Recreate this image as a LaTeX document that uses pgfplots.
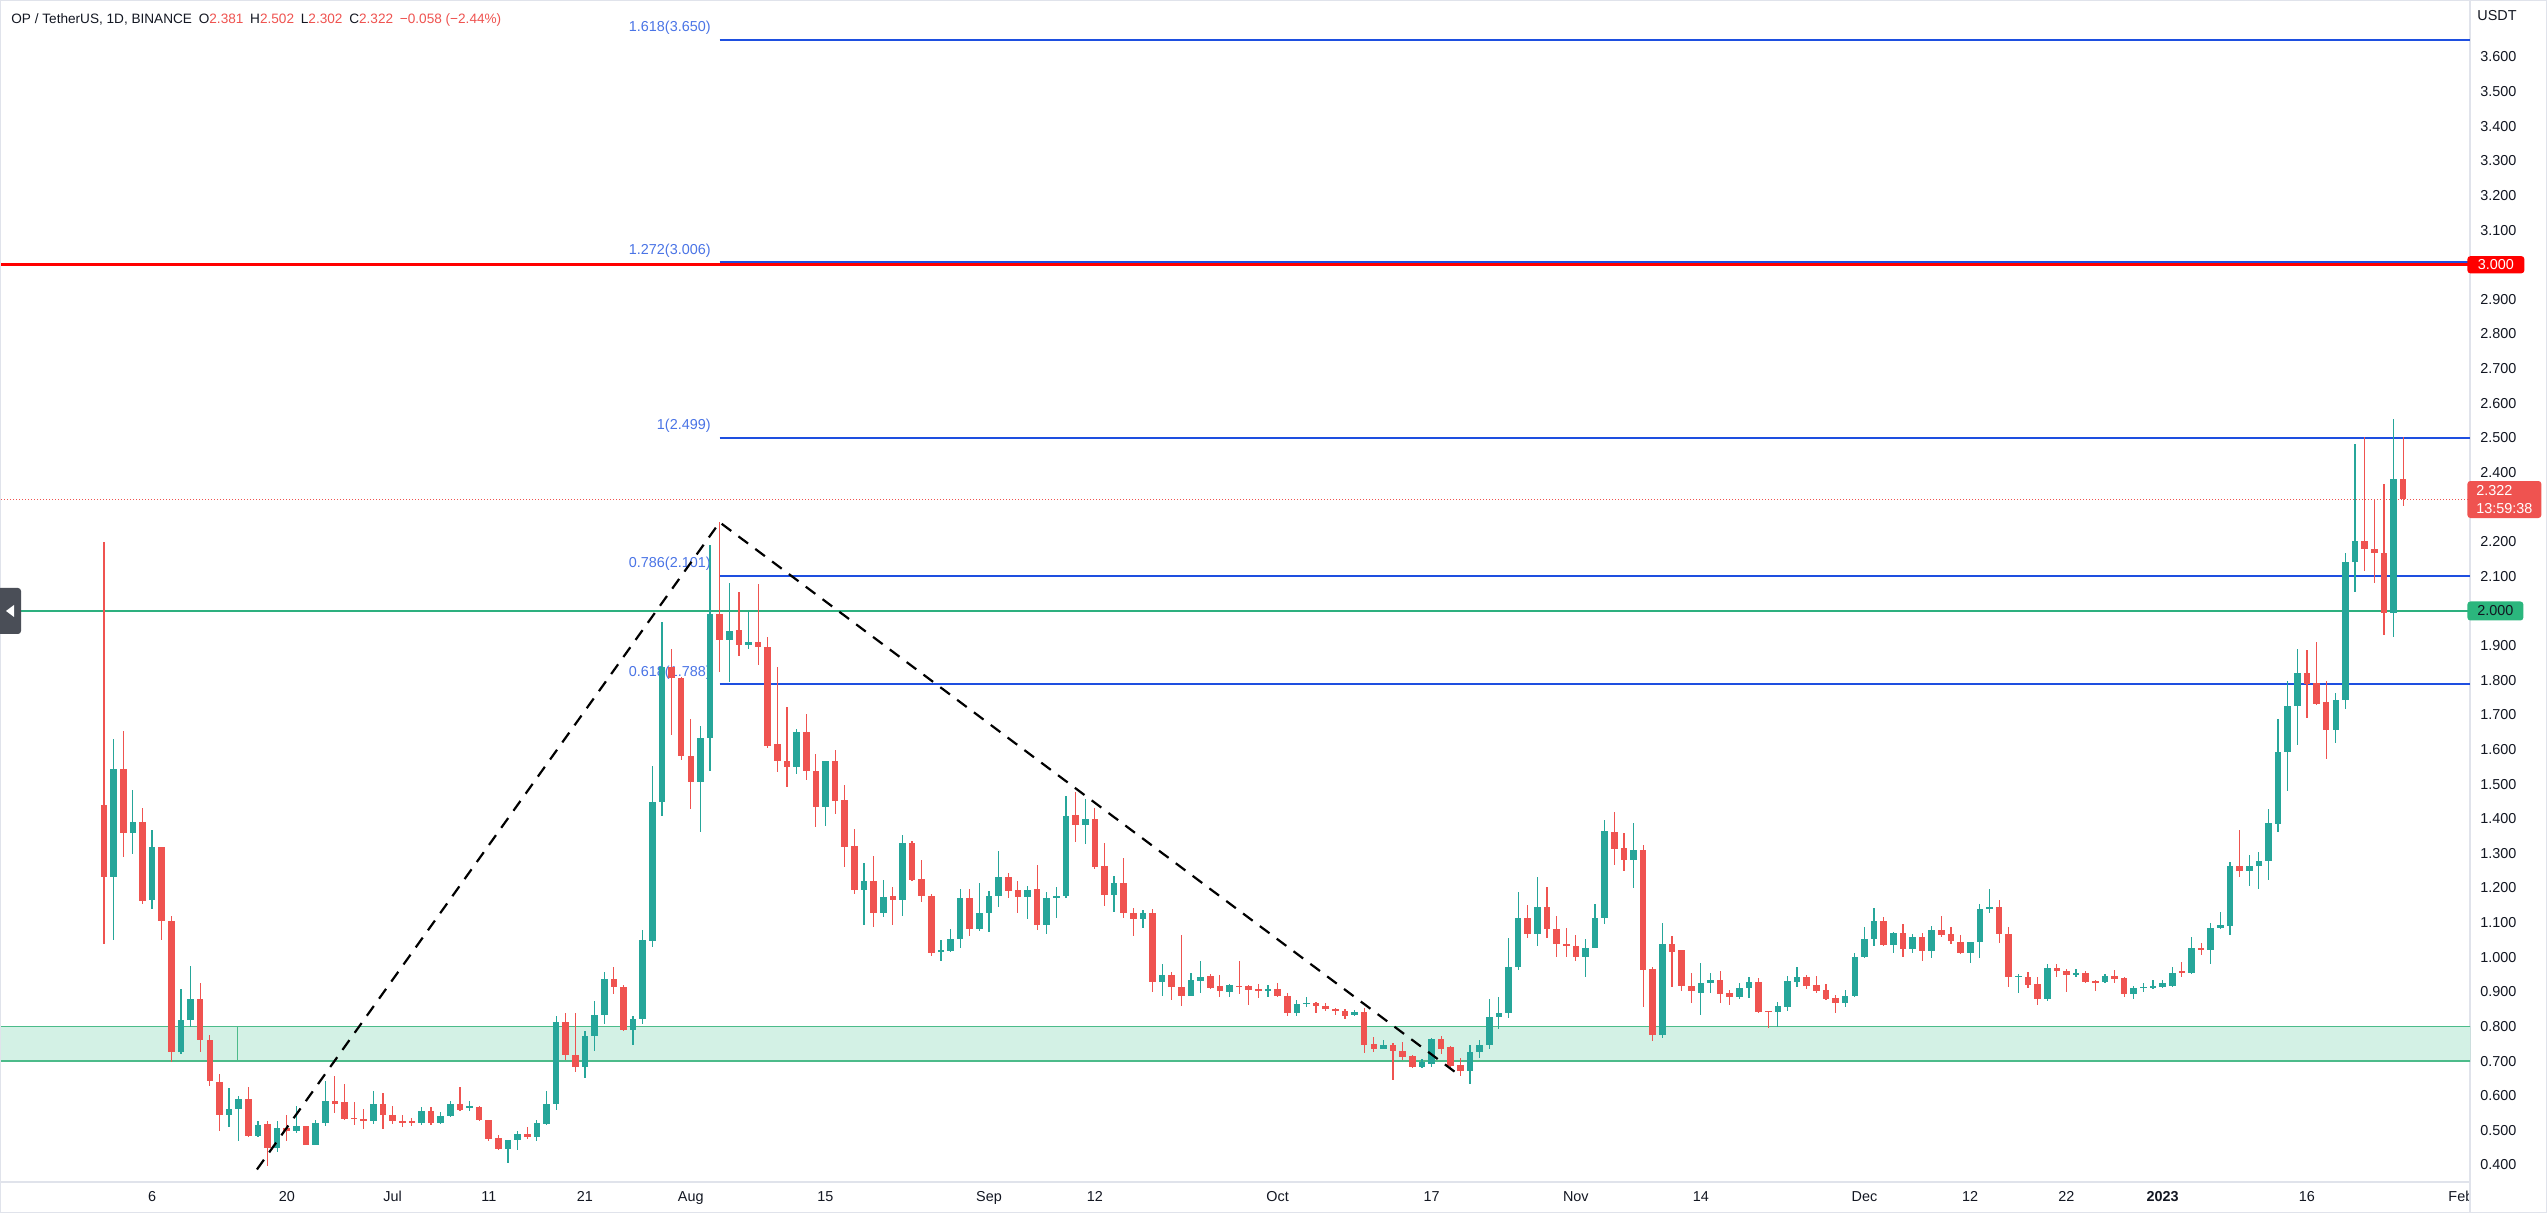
\documentclass[border=0pt]{standalone}
\usepackage{pgfplots}
\pgfplotsset{compat=1.18}
\usepackage{pgfplotstable}
\usepackage{fontspec}
\setmainfont{Liberation Sans}
\definecolor{up}{HTML}{26A69A}
\definecolor{dn}{HTML}{EF5350}
\definecolor{fib}{HTML}{1E4FE0}
\definecolor{fibtxt}{HTML}{4A74E6}
\definecolor{zonefill}{HTML}{D3F1E5}
\definecolor{zoneline}{HTML}{4CBB8A}
\definecolor{gline}{HTML}{2DB07F}
\definecolor{gbox}{HTML}{2BB67D}
\definecolor{txt}{HTML}{131722}
\definecolor{frame}{HTML}{E0E3EB}
\definecolor{tab}{HTML}{4A4E57}

\pgfplotstableread{
d o h l c
0 1.439 2.200 1.038 1.231
1 1.231 1.631 1.051 1.543
2 1.543 1.653 1.289 1.359
3 1.359 1.482 1.297 1.391
4 1.391 1.432 1.154 1.161
5 1.164 1.367 1.140 1.318
6 1.318 1.318 1.051 1.105
7 1.105 1.119 0.697 0.726
8 0.726 0.908 0.720 0.819
9 0.819 0.976 0.798 0.878
10 0.878 0.926 0.726 0.761
11 0.761 0.774 0.627 0.643
12 0.640 0.664 0.499 0.544
13 0.544 0.622 0.510 0.562
14 0.562 0.600 0.470 0.590
15 0.590 0.624 0.481 0.485
16 0.485 0.526 0.481 0.515
17 0.517 0.526 0.397 0.449
18 0.449 0.526 0.438 0.506
19 0.506 0.545 0.470 0.499
20 0.499 0.570 0.491 0.513
21 0.513 0.513 0.459 0.459
22 0.459 0.531 0.459 0.520
23 0.520 0.643 0.513 0.586
24 0.586 0.656 0.549 0.577
25 0.581 0.635 0.531 0.534
26 0.536 0.581 0.515 0.533
27 0.533 0.563 0.504 0.526
28 0.526 0.613 0.517 0.577
29 0.577 0.608 0.504 0.544
30 0.544 0.570 0.517 0.526
31 0.528 0.545 0.510 0.523
32 0.526 0.536 0.513 0.521
33 0.520 0.568 0.515 0.556
34 0.556 0.568 0.515 0.520
35 0.520 0.552 0.517 0.541
36 0.541 0.584 0.539 0.575
37 0.575 0.624 0.556 0.560
38 0.565 0.584 0.556 0.570
39 0.568 0.570 0.526 0.529
40 0.529 0.531 0.470 0.476
41 0.478 0.488 0.442 0.447
42 0.447 0.472 0.406 0.472
43 0.472 0.499 0.442 0.490
44 0.490 0.510 0.474 0.481
45 0.481 0.531 0.470 0.520
46 0.517 0.613 0.515 0.577
47 0.577 0.830 0.560 0.814
48 0.814 0.838 0.702 0.718
49 0.718 0.840 0.668 0.683
50 0.683 0.787 0.652 0.773
51 0.773 0.875 0.729 0.832
52 0.832 0.956 0.806 0.937
53 0.937 0.972 0.893 0.915
54 0.915 0.919 0.787 0.790
55 0.790 0.829 0.746 0.822
56 0.822 1.080 0.806 1.050
57 1.047 1.552 1.030 1.447
58 1.447 1.969 1.409 1.838
59 1.838 1.889 1.641 1.807
60 1.807 1.810 1.569 1.582
61 1.580 1.688 1.428 1.506
62 1.506 1.668 1.361 1.633
63 1.633 2.190 1.538 1.991
64 1.991 2.256 1.825 1.917
65 1.915 2.080 1.796 1.942
66 1.945 2.055 1.870 1.901
67 1.901 1.998 1.890 1.909
68 1.909 2.077 1.843 1.897
69 1.897 1.925 1.604 1.611
70 1.615 1.837 1.536 1.566
71 1.567 1.724 1.492 1.550
72 1.550 1.660 1.530 1.649
73 1.649 1.702 1.512 1.539
74 1.539 1.586 1.376 1.434
75 1.434 1.567 1.379 1.567
76 1.567 1.597 1.414 1.451
77 1.453 1.497 1.260 1.317
78 1.320 1.370 1.184 1.193
79 1.193 1.271 1.094 1.220
80 1.220 1.293 1.088 1.127
81 1.127 1.224 1.116 1.174
82 1.177 1.204 1.094 1.166
83 1.166 1.354 1.118 1.331
84 1.331 1.337 1.221 1.223
85 1.226 1.282 1.160 1.177
86 1.177 1.182 1.003 1.013
87 1.016 1.050 0.989 1.021
88 1.019 1.081 1.014 1.052
89 1.052 1.196 1.027 1.171
90 1.171 1.196 1.061 1.081
91 1.081 1.215 1.077 1.127
92 1.127 1.191 1.072 1.177
93 1.177 1.306 1.144 1.232
94 1.232 1.243 1.171 1.191
95 1.193 1.221 1.129 1.173
96 1.173 1.207 1.110 1.193
97 1.196 1.265 1.080 1.092
98 1.092 1.188 1.066 1.171
99 1.171 1.202 1.112 1.177
100 1.177 1.466 1.170 1.408
101 1.411 1.478 1.334 1.382
102 1.382 1.456 1.326 1.398
103 1.398 1.430 1.254 1.262
104 1.264 1.329 1.148 1.180
105 1.180 1.235 1.132 1.214
106 1.214 1.286 1.112 1.129
107 1.129 1.141 1.060 1.110
108 1.110 1.136 1.085 1.129
109 1.129 1.138 0.901 0.927
110 0.927 0.980 0.888 0.949
111 0.949 0.958 0.877 0.915
112 0.915 1.064 0.860 0.888
113 0.888 0.954 0.888 0.934
114 0.932 0.989 0.898 0.942
115 0.946 0.952 0.907 0.912
116 0.917 0.949 0.884 0.901
117 0.901 0.923 0.884 0.920
118 0.918 0.989 0.893 0.915
119 0.917 0.920 0.862 0.905
120 0.907 0.923 0.881 0.902
121 0.905 0.920 0.884 0.907
122 0.907 0.925 0.884 0.888
123 0.888 0.898 0.830 0.838
124 0.840 0.877 0.830 0.864
125 0.865 0.884 0.855 0.869
126 0.869 0.872 0.838 0.859
127 0.859 0.867 0.845 0.850
128 0.851 0.854 0.833 0.845
129 0.845 0.850 0.821 0.831
130 0.833 0.848 0.831 0.841
131 0.841 0.852 0.723 0.747
132 0.749 0.769 0.725 0.735
133 0.735 0.761 0.734 0.746
134 0.747 0.753 0.644 0.729
135 0.730 0.756 0.703 0.713
136 0.715 0.717 0.679 0.682
137 0.682 0.705 0.679 0.697
138 0.692 0.766 0.684 0.763
139 0.763 0.773 0.721 0.734
140 0.740 0.744 0.684 0.686
141 0.689 0.708 0.657 0.670
142 0.670 0.747 0.634 0.727
143 0.727 0.761 0.708 0.747
144 0.747 0.878 0.734 0.826
145 0.826 0.886 0.792 0.838
146 0.838 1.055 0.824 0.971
147 0.971 1.187 0.963 1.114
148 1.114 1.151 1.055 1.067
149 1.067 1.231 1.032 1.146
150 1.144 1.204 1.055 1.082
151 1.082 1.120 1.002 1.037
152 1.038 1.083 1.000 1.033
153 1.033 1.064 0.990 1.002
154 1.002 1.052 0.942 1.028
155 1.026 1.153 1.026 1.114
156 1.114 1.396 1.096 1.365
157 1.361 1.418 1.265 1.313
158 1.315 1.358 1.250 1.281
159 1.281 1.387 1.199 1.310
160 1.310 1.324 0.855 0.963
161 0.965 0.973 0.759 0.775
162 0.775 1.098 0.766 1.037
163 1.038 1.061 0.913 1.016
164 1.021 1.021 0.901 0.918
165 0.918 0.953 0.869 0.901
166 0.898 0.982 0.833 0.925
167 0.925 0.953 0.898 0.934
168 0.934 0.961 0.869 0.894
169 0.896 0.904 0.862 0.886
170 0.886 0.925 0.878 0.910
171 0.910 0.944 0.881 0.929
172 0.929 0.939 0.840 0.843
173 0.846 0.846 0.795 0.843
174 0.843 0.872 0.798 0.859
175 0.857 0.946 0.846 0.930
176 0.927 0.971 0.915 0.944
177 0.944 0.949 0.907 0.917
178 0.920 0.946 0.896 0.903
179 0.905 0.923 0.877 0.878
180 0.881 0.891 0.838 0.867
181 0.867 0.904 0.857 0.888
182 0.888 1.013 0.886 1.000
183 1.000 1.088 0.997 1.054
184 1.054 1.141 1.033 1.105
185 1.106 1.115 1.033 1.035
186 1.035 1.074 1.011 1.069
187 1.069 1.096 1.002 1.024
188 1.024 1.066 1.013 1.058
189 1.058 1.069 0.990 1.019
190 1.019 1.090 0.999 1.079
191 1.079 1.119 1.059 1.064
192 1.067 1.088 1.037 1.047
193 1.045 1.064 1.009 1.011
194 1.011 1.045 0.984 1.045
195 1.043 1.154 0.997 1.138
196 1.138 1.196 1.129 1.144
197 1.144 1.165 1.040 1.066
198 1.066 1.088 0.915 0.942
199 0.944 0.952 0.896 0.946
200 0.944 0.958 0.911 0.920
201 0.922 0.944 0.863 0.879
202 0.879 0.979 0.875 0.969
203 0.969 0.979 0.944 0.960
204 0.961 0.966 0.899 0.948
205 0.948 0.966 0.942 0.954
206 0.954 0.961 0.925 0.928
207 0.931 0.934 0.902 0.928
208 0.928 0.951 0.925 0.946
209 0.946 0.964 0.925 0.936
210 0.940 0.944 0.885 0.893
211 0.893 0.917 0.879 0.911
212 0.911 0.925 0.899 0.915
213 0.911 0.934 0.908 0.917
214 0.913 0.934 0.911 0.925
215 0.917 0.973 0.913 0.955
216 0.961 0.985 0.944 0.955
217 0.955 1.058 0.952 1.028
218 1.028 1.040 1.007 1.020
219 1.020 1.099 0.981 1.084
220 1.084 1.132 1.081 1.093
221 1.091 1.276 1.064 1.262
222 1.262 1.368 1.231 1.249
223 1.249 1.294 1.205 1.264
224 1.264 1.305 1.197 1.278
225 1.278 1.427 1.223 1.388
226 1.386 1.689 1.361 1.592
227 1.592 1.797 1.479 1.726
228 1.726 1.889 1.614 1.821
229 1.821 1.887 1.691 1.789
230 1.792 1.910 1.727 1.732
231 1.736 1.797 1.573 1.656
232 1.656 1.762 1.620 1.744
233 1.744 2.168 1.716 2.140
234 2.140 2.481 2.056 2.201
235 2.201 2.502 2.115 2.178
236 2.180 2.323 2.081 2.166
237 2.168 2.366 1.930 1.995
238 1.995 2.555 1.924 2.382
239 2.381 2.502 2.302 2.322
}\ohlc

\begin{document}
\begin{tikzpicture}[font=\fontsize{7.2}{8.6}\selectfont]
\useasboundingbox (0,0) rectangle (1273.5pt,606.5pt);
\fill[white] (0,0) rectangle (1273.5pt,606.5pt);
\begin{axis}[
  at={(0pt,15.5pt)}, anchor=south west,
  width=1235pt, height=591pt, scale only axis,
  xmin=-10.81, xmax=245.95, ymin=0.351, ymax=3.7646,
  axis line style={draw=frame, line width=0.8pt},
  major tick length=0pt,
  /pgf/number format/assume math mode=true,
  tick label style={font=\fontsize{7.2}{8.6}\selectfont, text=txt},
  xtick={5,19,30,40,50,61,75,92,103,122,138,153,166,183,194,204,214,229,245},
  xticklabels={6,20,Jul,11,21,Aug,15,Sep,12,Oct,17,Nov,14,Dec,12,22,\textbf{2023},16,Feb},
  xticklabel style={anchor=base, yshift=-10pt},
  ytick={0.4,0.5,0.6,0.7,0.8,0.9,1.0,1.1,1.2,1.3,1.4,1.5,1.6,1.7,1.8,1.9,2.1,2.2,2.4,2.5,2.6,2.7,2.8,2.9,3.1,3.2,3.3,3.4,3.5,3.6},
  yticklabel pos=right,
  yticklabel={\pgfmathprintnumber[fixed,fixed zerofill,precision=3]{\tick}},
  yticklabel style={anchor=west, inner sep=0pt, xshift=5pt},
  clip=true,
]
% support zone
\addplot[draw=zoneline, fill=zonefill, line width=0.6pt] coordinates {(-11,0.7) (246,0.7) (246,0.8) (-11,0.8) (-11,0.7)};
\addplot[zoneline, line width=0.6pt] coordinates {(13.9,0.7) (13.9,0.8)};
% horizontal levels
\addplot[dn, densely dotted, line width=0.5pt] coordinates {(-11,2.322) (246,2.322)};
\addplot[gline, line width=1.1pt] coordinates {(-11,2.0) (246,2.0)};
\addplot[red, line width=1.4pt] coordinates {(-11,3.0) (246,3.0)};
\addplot[fib, line width=1.0pt] coordinates {(64,3.650) (246,3.650)};
\addplot[fib, line width=0.8pt] coordinates {(64,3.008) (246,3.008)};
\addplot[fib, line width=1.0pt] coordinates {(64,2.499) (246,2.499)};
\addplot[fib, line width=1.0pt] coordinates {(64,2.101) (246,2.101)};
\addplot[fib, line width=1.0pt] coordinates {(64,1.788) (246,1.788)};
\node[fibtxt, anchor=east, inner sep=0pt, yshift=6pt] at (axis cs:63.1,3.650) {1.618(3.650)};
\node[fibtxt, anchor=east, inner sep=0pt, yshift=6pt] at (axis cs:63.1,3.006) {1.272(3.006)};
\node[fibtxt, anchor=east, inner sep=0pt, yshift=6pt] at (axis cs:63.1,2.499) {1(2.499)};
\node[fibtxt, anchor=east, inner sep=0pt, yshift=6pt] at (axis cs:63.1,2.101) {0.786(2.101)};
\node[fibtxt, anchor=east, inner sep=0pt, yshift=6pt] at (axis cs:63.1,1.788) {0.618(1.788)};
% candles: wicks
\addplot[draw=none, mark=none, forget plot, error bars/.cd, y dir=both, y explicit, error mark=none,
  error bar style={draw=up, line width=0.6pt}]
  table[x=d, y expr={\thisrow{c}>=\thisrow{o} ? (\thisrow{h}+\thisrow{l})/2 : -10},
        y error expr={(\thisrow{h}-\thisrow{l})/2}] {\ohlc};
\addplot[draw=none, mark=none, forget plot, error bars/.cd, y dir=both, y explicit, error mark=none,
  error bar style={draw=dn, line width=0.6pt}]
  table[x=d, y expr={\thisrow{c}<\thisrow{o} ? (\thisrow{h}+\thisrow{l})/2 : -10},
        y error expr={(\thisrow{h}-\thisrow{l})/2}] {\ohlc};
% candles: bodies
\addplot[draw=none, mark=none, forget plot, error bars/.cd, y dir=both, y explicit, error mark=none,
  error bar style={draw=up, line width=3.3pt}]
  table[x=d, y expr={\thisrow{c}>=\thisrow{o} ? (\thisrow{o}+\thisrow{c})/2 : -10},
        y error expr={max(abs(\thisrow{c}-\thisrow{o})/2,0.0015)}] {\ohlc};
\addplot[draw=none, mark=none, forget plot, error bars/.cd, y dir=both, y explicit, error mark=none,
  error bar style={draw=dn, line width=3.3pt}]
  table[x=d, y expr={\thisrow{c}<\thisrow{o} ? (\thisrow{o}+\thisrow{c})/2 : -10},
        y error expr={max(abs(\thisrow{c}-\thisrow{o})/2,0.0015)}] {\ohlc};
% zigzag
\addplot[black, line width=1.1pt, dash pattern=on 6pt off 4.5pt] coordinates {(15.9,0.387) (64,2.256) (141.0,0.657)};
\coordinate (p300) at (axis cs:245.95,3.0);
\coordinate (p232) at (axis cs:245.95,2.322);
\coordinate (p200) at (axis cs:245.95,2.0);
\end{axis}
% cover for date row under price scale
\fill[white] (1235.4pt,0) rectangle (1273.5pt,15.1pt);
\draw[frame, line width=0.8pt] (1235pt,0) -- (1235pt,15.5pt);
\draw[frame, line width=1pt] (0,0) rectangle (1273.5pt,606.5pt);
% price scale labels
\node[anchor=west, text=txt, inner sep=0pt] at (1238.5pt,598.5pt) {USDT};
\node[fill=red, text=white, anchor=west, inner sep=0pt, rounded corners=1.5pt, minimum width=28.5pt, minimum height=8.6pt] at ([xshift=-1.5pt]p300) {3.000};
\node[fill=dn, text=white, anchor=west, inner sep=0pt, rounded corners=1.5pt, minimum width=37pt, minimum height=18.5pt, align=left] at ([xshift=-1.5pt]p232) {2.322\\13:59:38};
\node[fill=gbox, text=txt, anchor=west, inner sep=0pt, rounded corners=1.5pt, minimum width=28pt, minimum height=9.5pt] at ([xshift=-1.5pt]p200) {2.000};
% left tab
\fill[tab, rounded corners=1.5pt] (-2pt,289.5pt) rectangle (10.5pt,312.5pt);
\fill[white] (3pt,301pt) -- (7pt,304pt) -- (7pt,298pt) -- cycle;
% title
\node[anchor=west, inner sep=0pt, text=txt, font=\fontsize{6.8}{8}\selectfont] at (5.5pt,596.5pt)
  {OP / TetherUS, 1D, BINANCE\enspace O\textcolor{dn}{2.381}\enspace H\textcolor{dn}{2.502}\enspace L\textcolor{dn}{2.302}\enspace C\textcolor{dn}{2.322}\enspace\textcolor{dn}{−0.058 (−2.44\%)}};
\end{tikzpicture}
\end{document}
